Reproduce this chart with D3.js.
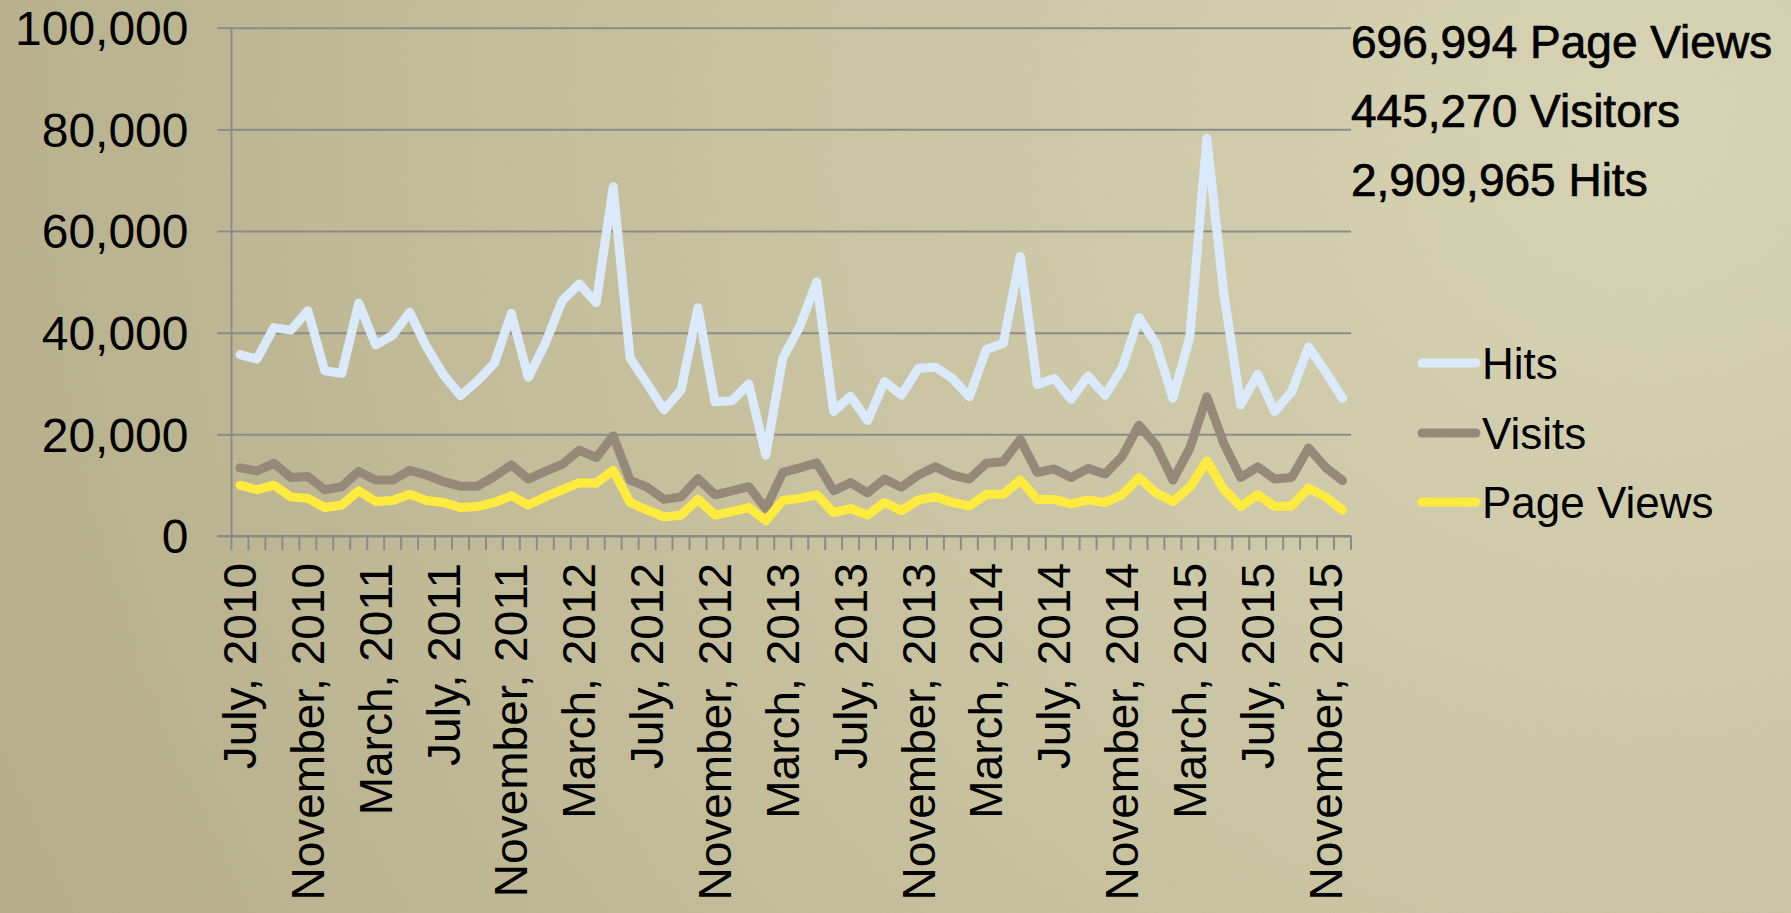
<!DOCTYPE html>
<html>
<head>
<meta charset="utf-8">
<script src="https://cdn.jsdelivr.net/npm/d3@7"></script>
<style>
    html, body { margin: 0; padding: 0; overflow: hidden; }
    svg { display: block; }
</style>
</head>
<body>
<div id="main"></div>
<script>
// monthly categories, July 2010 .. December 2015
const months = [
    "July, 2010", "August, 2010", "September, 2010", "October, 2010", "November, 2010", "December, 2010",
    "January, 2011", "February, 2011", "March, 2011", "April, 2011", "May, 2011", "June, 2011",
    "July, 2011", "August, 2011", "September, 2011", "October, 2011", "November, 2011", "December, 2011",
    "January, 2012", "February, 2012", "March, 2012", "April, 2012", "May, 2012", "June, 2012",
    "July, 2012", "August, 2012", "September, 2012", "October, 2012", "November, 2012", "December, 2012",
    "January, 2013", "February, 2013", "March, 2013", "April, 2013", "May, 2013", "June, 2013",
    "July, 2013", "August, 2013", "September, 2013", "October, 2013", "November, 2013", "December, 2013",
    "January, 2014", "February, 2014", "March, 2014", "April, 2014", "May, 2014", "June, 2014",
    "July, 2014", "August, 2014", "September, 2014", "October, 2014", "November, 2014", "December, 2014",
    "January, 2015", "February, 2015", "March, 2015", "April, 2015", "May, 2015", "June, 2015",
    "July, 2015", "August, 2015", "September, 2015", "October, 2015", "November, 2015", "December, 2015"
];

const hits = [
    35700, 34800, 41000, 40500, 44300, 32500, 32000, 45800, 37600, 39500, 44000, 37200, 31700, 27600, 30500, 34000, 43800,
    31200, 37900, 46300, 49600, 45900, 68700, 35000, 30000, 24800, 28700, 44900, 26400, 26600, 29900, 15900, 35000,
    41200, 50000, 24500, 27500, 22700, 30400, 27700, 33000, 33200, 31000, 27400, 36700, 37900, 55000, 29800, 31000,
    26900, 31500, 27700, 33000, 43000, 37900, 27100, 39200, 78200, 47700, 25800, 31800, 24500, 28400, 37200, 32300, 27100
];
const visits = [
    13400, 12800, 14300, 11500, 11700, 9100, 9700, 12700, 11000, 11000, 12900, 12000, 10700, 9800, 9800, 11700, 14000,
    11200, 12700, 14100, 16900, 15400, 19700, 11000, 9600, 7200, 7700, 11300, 8100, 8900, 9700, 5400, 12500,
    13400, 14400, 8900, 10500, 8500, 11200, 9600, 12000, 13600, 12000, 11200, 14300, 14600, 19000, 12500, 13200,
    11500, 13300, 12200, 15600, 21800, 17900, 11000, 17300, 27400, 18200, 11500, 13600, 11200, 11500, 17300, 13500, 10900
];
const pageViews = [
    10000, 9100, 10000, 7700, 7400, 5600, 6100, 8900, 6800, 7000, 8200, 7000, 6600, 5600, 5800, 6600, 7900,
    6100, 7700, 9100, 10500, 10400, 12900, 6600, 5100, 3800, 4100, 7200, 4100, 4800, 5600, 3000, 7000,
    7400, 8100, 4600, 5400, 4100, 6600, 5000, 7100, 7700, 6600, 5900, 8200, 8200, 11000, 7200, 7200,
    6300, 7100, 6600, 8100, 11500, 8500, 6800, 9600, 14800, 9200, 5800, 8100, 5800, 5900, 9400, 7700, 5100
];

const yTicks = [0, 20000, 40000, 60000, 80000, 100000];
const summaryLines = ["696,994 Page Views", "445,270 Visitors", "2,909,965 Hits"];
const seriesNames = ["Hits", "Visits", "Page Views"];
const seriesColors = ["#dbeafa", "#958a79", "#fdec3f"];

const width = 1791, height = 913;
const margin = {left: 231.5, right: 1351, top: 27.7, bottom: 536};
const font = "'Liberation Sans', Arial, sans-serif";

const svg = d3.select("#main").append("svg")
    .attr("width", width)
    .attr("height", height);

// background: khaki paper, lighter toward the top right, with a bit of grain
const defs = svg.append("defs");
const grad = defs.append("radialGradient")
    .attr("id", "bg")
    .attr("gradientUnits", "userSpaceOnUse")
    .attr("cx", 1650).attr("cy", 120).attr("r", 1800);
grad.append("stop").attr("offset", "0%").attr("stop-color", "#d9d6b7");
grad.append("stop").attr("offset", "55%").attr("stop-color", "#c8c29f");
grad.append("stop").attr("offset", "100%").attr("stop-color", "#b6ae8a");

const grain = defs.append("filter").attr("id", "grain");
grain.append("feTurbulence")
    .attr("type", "fractalNoise")
    .attr("baseFrequency", 0.9)
    .attr("numOctaves", 2)
    .attr("seed", 3);
grain.append("feColorMatrix")
    .attr("type", "matrix")
    .attr("values", "0 0 0 0 0.45  0 0 0 0 0.4  0 0 0 0 0.3  0 0 0 0.35 0");

svg.append("rect").attr("width", width).attr("height", height).attr("fill", "url(#bg)");
svg.append("rect").attr("width", width).attr("height", height)
    .attr("filter", "url(#grain)").attr("opacity", 0.35);

// scales
const x = d3.scaleBand()
    .domain(months)
    .range([margin.left, margin.right])
    .padding(0);
const y = d3.scaleLinear()
    .domain([0, 100000])
    .range([margin.bottom, margin.top]);
const cx = (m) => x(m) + x.bandwidth() / 2;

// gridlines
svg.append("g")
    .attr("transform", `translate(${margin.left},0)`)
    .call(d3.axisLeft(y).tickValues(yTicks).tickSize(-(margin.right - margin.left)).tickFormat(""))
    .call(g => g.select(".domain").remove())
    .call(g => g.selectAll("line").attr("stroke", "#8b8b88").attr("stroke-width", 2));

// y axis with outside ticks and labels
svg.append("g")
    .attr("transform", `translate(${margin.left},0)`)
    .call(d3.axisLeft(y).tickValues(yTicks).tickSize(14).tickPadding(29).tickFormat(d3.format(",")))
    .call(g => g.select(".domain").remove())
    .call(g => g.selectAll("line").attr("stroke", "#8b8b88").attr("stroke-width", 2))
    .call(g => g.selectAll("text")
        .attr("fill", "#000")
        .attr("font-family", font)
        .attr("font-size", 48)
        .attr("dy", "0.35em"));

svg.append("line")
    .attr("x1", margin.left).attr("x2", margin.left)
    .attr("y1", margin.top).attr("y2", margin.bottom)
    .attr("stroke", "#8b8b88").attr("stroke-width", 2);

// x axis: line, month boundary ticks, every 4th month labelled
svg.append("line")
    .attr("x1", margin.left - 14).attr("x2", margin.right)
    .attr("y1", margin.bottom).attr("y2", margin.bottom)
    .attr("stroke", "#8b8b88").attr("stroke-width", 2);

svg.append("g")
    .selectAll("line")
    .data(months.map(m => x(m)).concat([margin.right]))
    .enter()
    .append("line")
    .attr("x1", d => d).attr("x2", d => d)
    .attr("y1", margin.bottom).attr("y2", margin.bottom + 14)
    .attr("stroke", "#8b8b88").attr("stroke-width", 2);

svg.append("g")
    .attr("transform", `translate(0,${margin.bottom})`)
    .call(d3.axisBottom(x).tickValues(months.filter((m, i) => i % 4 === 0)).tickSize(0))
    .call(g => g.select(".domain").remove())
    .call(g => g.selectAll("text")
        .attr("fill", "#000")
        .attr("font-family", font)
        .attr("font-size", 46)
        .attr("transform", "rotate(-90)")
        .attr("text-anchor", "end")
        .attr("x", -27)
        .attr("y", 0)
        .attr("dy", "0.35em"));

// series lines
const line = d3.line()
    .x((d, i) => cx(months[i]))
    .y(d => y(d));

[hits, visits, pageViews].forEach((values, k) => {
    svg.append("path")
        .datum(values)
        .attr("d", line)
        .attr("fill", "none")
        .attr("stroke", seriesColors[k])
        .attr("stroke-width", 9)
        .attr("stroke-linejoin", "round")
        .attr("stroke-linecap", "round");
});

// legend
const legendY = [363, 433, 502];
const legend = svg.append("g")
    .selectAll("g")
    .data(seriesNames)
    .enter()
    .append("g")
    .attr("transform", (d, i) => `translate(1422, ${legendY[i]})`);
legend.append("line")
    .attr("x1", 0).attr("x2", 54)
    .attr("stroke", (d, i) => seriesColors[i])
    .attr("stroke-width", 9)
    .attr("stroke-linecap", "round");
legend.append("text")
    .text(d => d)
    .attr("x", 60)
    .attr("dy", "0.36em")
    .attr("font-family", font)
    .attr("font-size", 44)
    .attr("fill", "#000");

// totals in the top right
svg.append("g")
    .selectAll("text")
    .data(summaryLines)
    .enter()
    .append("text")
    .text(d => d)
    .attr("x", 1351)
    .attr("y", (d, i) => 58 + i * 69.2)
    .attr("font-family", font)
    .attr("font-size", 46)
    .attr("fill", "#000")
    .attr("stroke", "#000")
    .attr("stroke-width", 0.7);
</script>
</body>
</html>
